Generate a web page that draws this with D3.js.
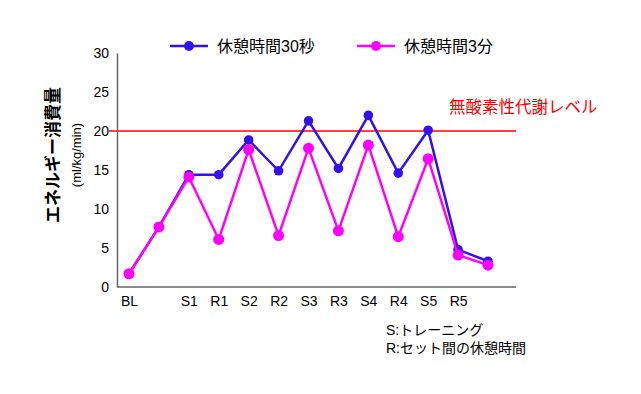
<!DOCTYPE html>
<html>
<head>
<meta charset="utf-8">
<script src="https://cdn.jsdelivr.net/npm/d3@7"></script>
<style>
  body { margin: 0; background: #fff; }
  svg text { font-family: "Liberation Sans", Arial, "Noto Sans CJK JP", sans-serif; }
</style>
</head>
<body>
<div id="chart"></div>
<script>
// ── Data ──
const categories = ['BL', 'p1', 'S1', 'R1', 'S2', 'R2', 'S3', 'R3', 'S4', 'R4', 'S5', 'R5', 'p2'];
const tickLabels = ['BL', '', 'S1', 'R1', 'S2', 'R2', 'S3', 'R3', 'S4', 'R4', 'S5', 'R5', ''];
const rest30s = [1.7, 7.7, 14.4, 14.4, 18.85, 14.9, 21.3, 15.2, 22.0, 14.6, 20.1, 4.8, 3.3];
const rest3m  = [1.7, 7.7, 14.1, 6.1, 17.6, 6.6, 17.8, 7.2, 18.2, 6.45, 16.45, 4.1, 2.8];
const yTicks = [0, 5, 10, 15, 20, 25, 30];
const threshold = 20;

const series = [
  { name: '休憩時間30秒', values: rest30s, color: '#3311ee', r: 4.8 },
  { name: '休憩時間3分',  values: rest3m,  color: '#ff00ff', r: 5.5 }
];

const W = 641, H = 394;
const svg = d3.select('#chart').append('svg')
  .attr('width', W).attr('height', H);

const x = d3.scalePoint().domain(categories).range([129, 488]);
const y = d3.scaleLinear().domain([0, 30]).range([287, 53]);
const axisLeftX = 117, axisRightX = 516;

// ── Threshold line ──
svg.append('line')
  .attr('x1', 109).attr('x2', axisRightX)
  .attr('y1', y(threshold)).attr('y2', y(threshold))
  .attr('stroke', '#ff0000').attr('stroke-width', 1.5);

svg.append('text')
  .attr('x', 449).attr('y', 113)
  .attr('fill', '#ff0000')
  .style('font-size', '16.5px')
  .text('無酸素性代謝レベル');

// ── Axes ──
const yAxis = svg.append('g')
  .attr('transform', `translate(${axisLeftX},0)`)
  .call(d3.axisLeft(y).tickValues(yTicks).tickSize(0).tickPadding(8));
yAxis.select('.domain').attr('stroke', '#666').attr('stroke-width', 1.5);
yAxis.selectAll('text').attr('fill', '#000').style('font-size', '14px');

svg.append('line')
  .attr('x1', axisLeftX).attr('x2', axisRightX)
  .attr('y1', y(0)).attr('y2', y(0))
  .attr('stroke', '#666').attr('stroke-width', 1.5);

const xAxis = svg.append('g')
  .attr('transform', `translate(0,${y(0)})`)
  .call(d3.axisBottom(x).tickSize(0).tickPadding(9)
    .tickFormat((d, i) => tickLabels[i]));
xAxis.select('.domain').remove();
xAxis.selectAll('text').attr('fill', '#000').style('font-size', '14px');

// ── Y label ──
svg.append('text')
  .attr('transform', 'translate(59,155) rotate(-90)')
  .attr('text-anchor', 'middle')
  .style('font-size', '17px').style('font-weight', 'bold')
  .text('エネルギー消費量');
svg.append('text')
  .attr('transform', 'translate(81,155) rotate(-90)')
  .attr('text-anchor', 'middle')
  .style('font-size', '13px')
  .text('(ml/kg/min)');

// ── Lines and dots ──
const line = d3.line()
  .x((d, i) => x(categories[i]))
  .y(d => y(d));

series.forEach(s => {
  svg.append('path').datum(s.values)
    .attr('fill', 'none').attr('stroke', s.color)
    .attr('stroke-width', 2.5)
    .attr('d', line);
  svg.selectAll(null).data(s.values).enter().append('circle')
    .attr('cx', (d, i) => x(categories[i]))
    .attr('cy', d => y(d))
    .attr('r', s.r).attr('fill', s.color);
});

// ── Legend ──
const legendX = [170, 357];
series.forEach((s, i) => {
  const g = svg.append('g').attr('transform', `translate(${legendX[i]},46)`);
  g.append('line').attr('x1', 0).attr('x2', 38)
    .attr('stroke', s.color).attr('stroke-width', 2.5);
  g.append('circle').attr('cx', 19).attr('r', 5).attr('fill', s.color);
  g.append('text').attr('x', 47).attr('y', 6)
    .style('font-size', '16px').text(s.name);
});

// ── Notes ──
const notes = ['S:トレーニング', 'R:セット間の休憩時間'];
svg.selectAll('.note').data(notes).enter().append('text')
  .attr('x', 386).attr('y', (d, i) => 335 + i * 18)
  .style('font-size', '14px')
  .text(d => d);
</script>
</body>
</html>
